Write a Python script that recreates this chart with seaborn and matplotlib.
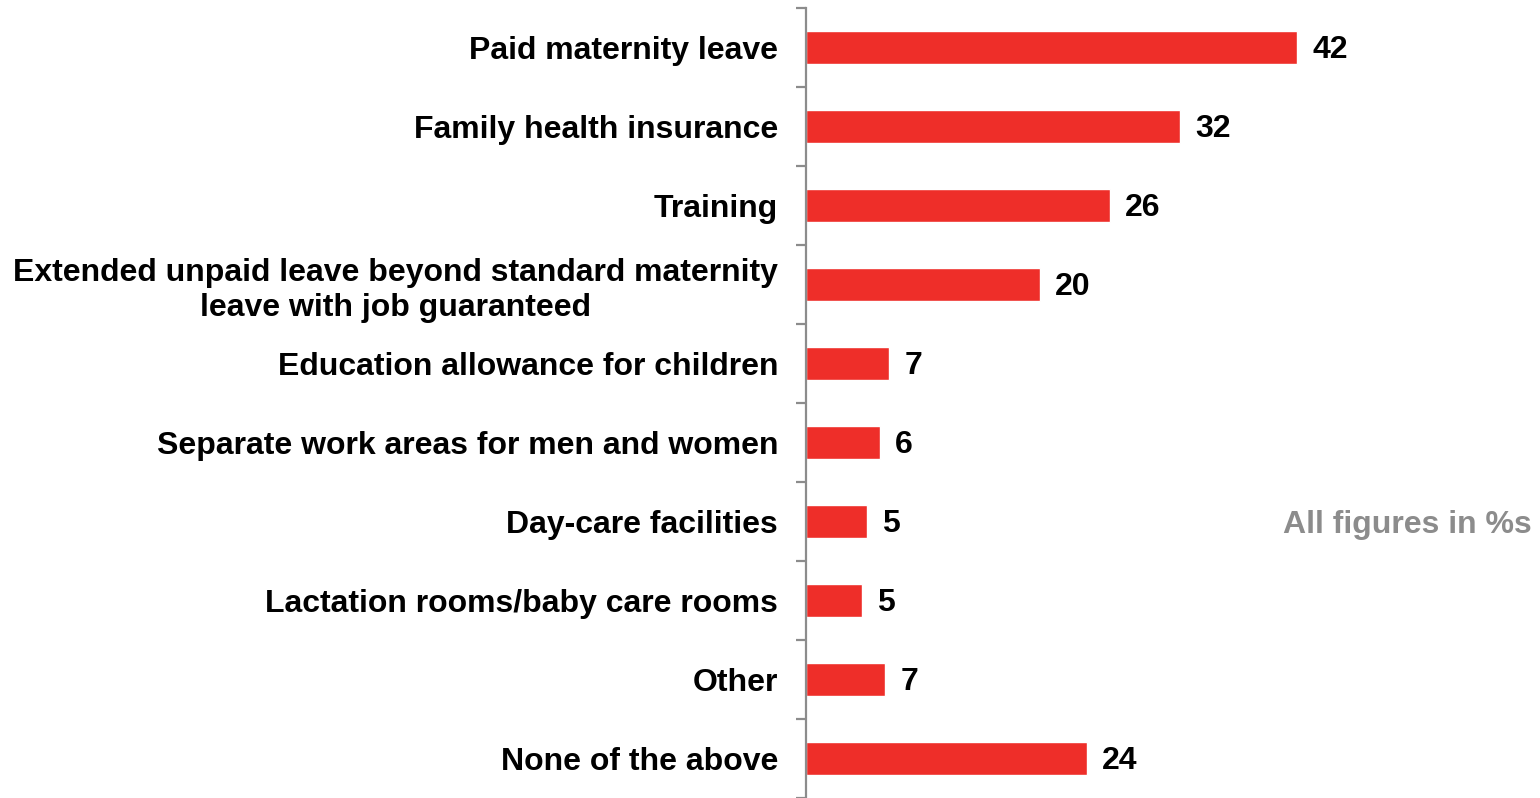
import matplotlib
matplotlib.use("Agg")
import matplotlib.pyplot as plt
import pandas as pd
import seaborn as sns

categories = [
    "Paid maternity leave",
    "Family health insurance",
    "Training",
    "Extended unpaid leave beyond standard maternity\nleave with job guaranteed",
    "Education allowance for children",
    "Separate work areas for men and women",
    "Day-care facilities",
    "Lactation rooms/baby care rooms",
    "Other",
    "None of the above",
]
values = [42, 32, 26, 20, 7.1, 6.3, 5.2, 4.8, 6.8, 24]
labels = [42, 32, 26, 20, 7, 6, 5, 5, 7, 24]

df = pd.DataFrame({"benefit": categories, "pct": values})

sns.set_style("white")
plt.rcParams["font.family"] = ["Liberation Sans", "DejaVu Sans"]

fig = plt.figure(figsize=(15.4, 7.98), dpi=100)
ax = fig.add_axes([806 / 1540, 0, 734 / 1540, 790 / 798])

sns.barplot(data=df, x="pct", y="benefit", color="#ee2e29", saturation=1,
            width=0.42, ax=ax)

ax.set_xlim(0, 734 / 11.69)
ax.set_ylim(len(categories) - 0.5, -0.5)
ax.set_xlabel("")
ax.set_ylabel("")
ax.set_xticks([])

for s in ["top", "right", "bottom"]:
    ax.spines[s].set_visible(False)
ax.spines["left"].set_color("#8c8c8c")
ax.spines["left"].set_linewidth(1.6)

# ticks sit on the category boundaries, labels centred on the bars
ax.set_yticks([i - 0.5 for i in range(len(categories) + 1)], minor=True)
ax.tick_params(axis="y", which="minor", length=7.5, width=1.6, color="#8c8c8c",
               direction="out", left=True)
ax.tick_params(axis="y", which="major", length=0, pad=20)
ax.set_yticklabels(categories, fontsize=23, fontweight="bold", color="black",
                   linespacing=1.22)
for t in ax.get_yticklabels():
    t.set_horizontalalignment("right")
    t.set_multialignment("center")

for i, (v, lab) in enumerate(zip(values, labels)):
    ax.annotate(str(lab), (v, i), xytext=(11, -2), textcoords="offset points",
                va="center", ha="left", fontsize=23, fontweight="bold",
                color="black")

fig.text(1532 / 1540, 1 - 525 / 798, "All figures in %s", ha="right",
         va="center", fontsize=23, fontweight="bold", color="#8c8c8c")

fig.savefig("out.png", dpi=100)
